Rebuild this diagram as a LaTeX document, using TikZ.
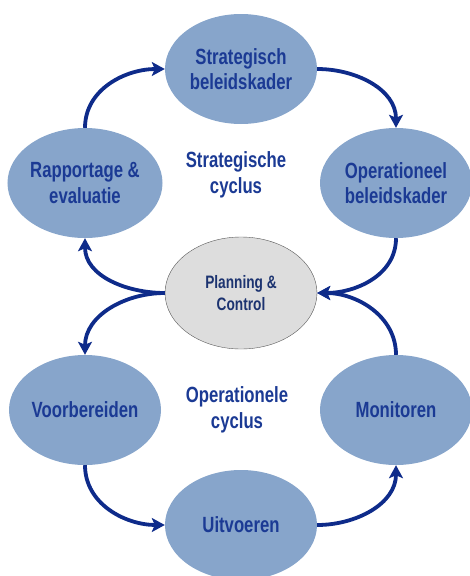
\documentclass[tikz,border=0pt]{standalone}
\usepackage{fontspec}
\setmainfont{Liberation Sans}[FakeStretch=0.76]
\usetikzlibrary{shapes.geometric,positioning,arrows.meta}
\definecolor{cyclefill}{HTML}{87A5CB}
\definecolor{cycletext}{HTML}{1B3A94}
\definecolor{cyclearrow}{HTML}{0E2B8A}
\definecolor{hubfill}{HTML}{DDDDDD}
\definecolor{hubtext}{HTML}{1C3370}

\begin{document}
\begin{tikzpicture}[
    x=1pt,y=-1pt,
    node distance=114pt and 156pt,on grid,
    phase/.style={ellipse,fill=cyclefill,minimum width=152pt,minimum height=110pt,inner sep=0pt,align=center,font=\bfseries\fontsize{22}{25.5}\selectfont,text=cycletext},
    hub/.style={ellipse,draw=gray!70!black,fill=hubfill,minimum width=152pt,minimum height=112pt,inner sep=0pt,align=center,font=\bfseries\fontsize{18}{22}\selectfont,text=hubtext},
    lbl/.style={align=center,font=\bfseries\fontsize{22}{25.5}\selectfont,text=cycletext},
    arrow/.style={line width=3.8pt,-{Stealth[length=13pt,width=14pt,inset=3pt]},cyclearrow}
]
    \useasboundingbox (0,0) rectangle (470,576);

    % strategische cyclus
    \node[phase] (sb) at (241,69) {Strategisch\\beleidskader};
    \node[phase,below left=114pt and 156pt of sb] (rp) {Rapportage \&\\evaluatie};
    \node[phase,below right=114pt and 155pt of sb] (ob) {Operationeel\\beleidskader};
    \node[hub,below=224pt of sb] (pc) {Planning \&\\Control};

    % operationele cyclus
    \node[phase,below=227pt of rp] (vb) {Voorbereiden};
    \node[phase,below=227pt of ob] (mo) {Monitoren};
    \node[phase,below=232pt of pc] (ui) {Uitvoeren};

    \node[lbl] (sc) at (236,175) {Strategische\\cyclus};
    \node[lbl] (oc) at (237,410) {Operationele\\cyclus};

    \draw[arrow] (rp.north) to[out=90,in=180] (sb.west);
    \draw[arrow] (sb.east) to[out=0,in=90] (ob.north);
    \draw[arrow] (ob.south) to[out=-90,in=0] (pc.east);
    \draw[arrow] (pc.west) to[out=180,in=-90] (rp.south);
    \draw[arrow] (pc.west) to[out=180,in=90] (vb.north);
    \draw[arrow] (vb.south) to[out=-90,in=180] (ui.west);
    \draw[arrow] (ui.east) to[out=0,in=-90] (mo.south);
    \draw[arrow] (mo.north) to[out=90,in=0] (pc.east);
\end{tikzpicture}
\end{document}
